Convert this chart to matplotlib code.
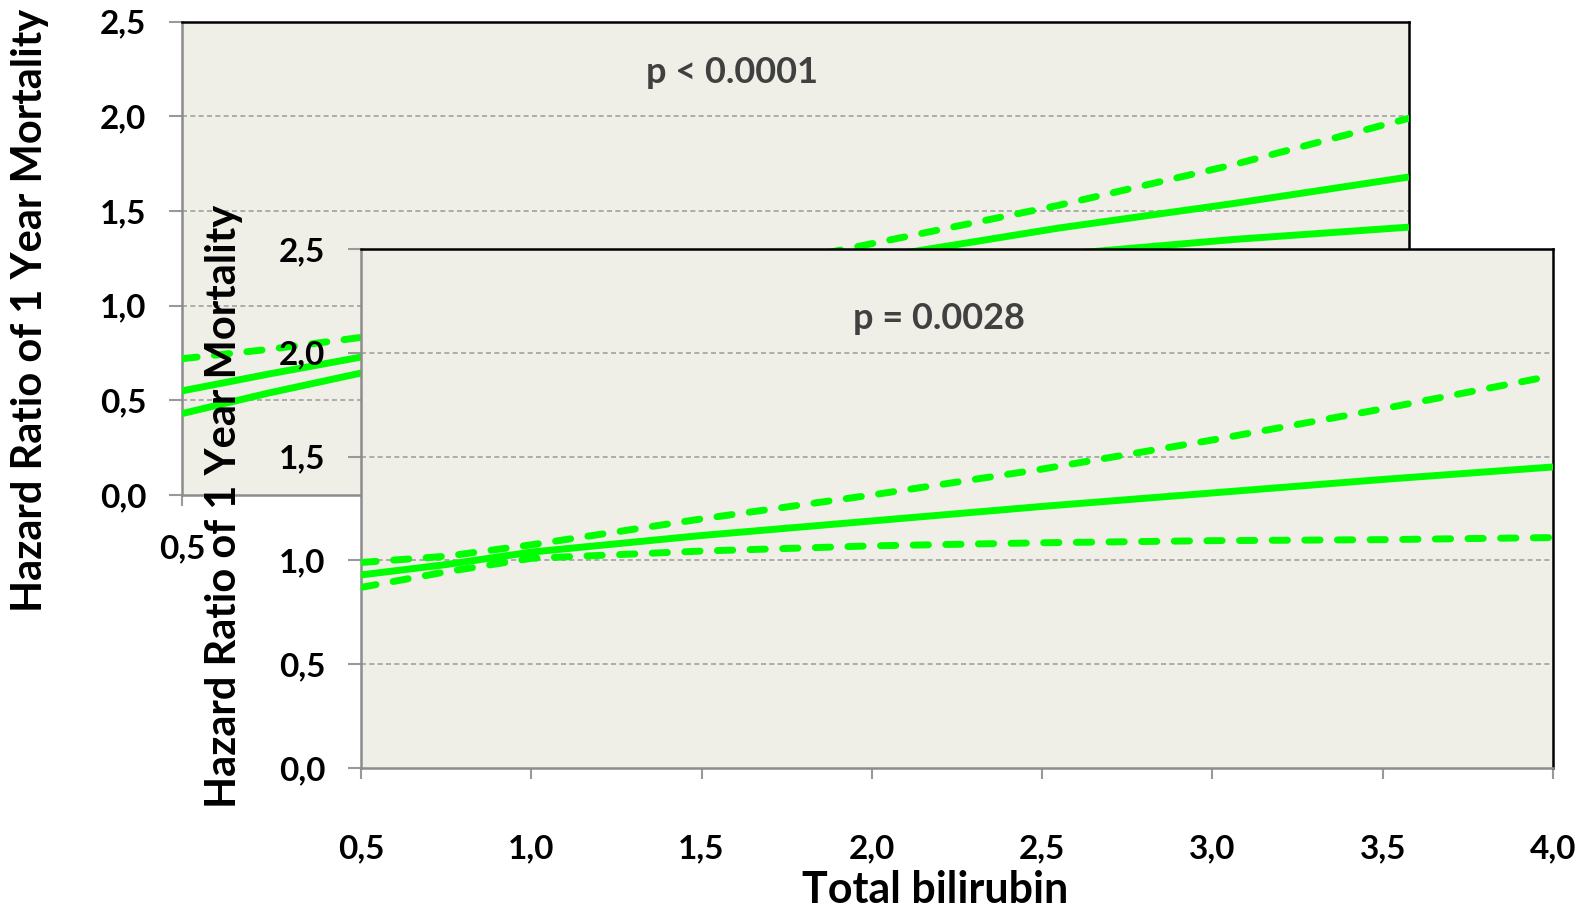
import matplotlib.pyplot as plt
import numpy as np

# total bilirubin grid
bili = [0.5, 0.75, 1.0, 1.5, 2.0, 2.5, 3.0, 3.5, 4.0]

# back panel (p < 0.0001)
back_upper = [0.72, 0.77, 0.83, 0.98, 1.15, 1.34, 1.53, 1.745, 1.99]
back_mid = [0.55, 0.64, 0.725, 0.90, 1.08, 1.26, 1.41, 1.54, 1.68]
back_lower = [0.43, 0.54, 0.64, 0.83, 1.01, 1.16, 1.27, 1.35, 1.415]

# front panel (p = 0.0028)
front_upper = [0.99, 1.02, 1.075, 1.20, 1.315, 1.44, 1.58, 1.73, 1.89]
front_mid = [0.93, 0.98, 1.04, 1.12, 1.19, 1.26, 1.325, 1.39, 1.45]
front_lower = [0.87, 0.945, 1.01, 1.045, 1.07, 1.085, 1.095, 1.10, 1.11]

xticks = [0.5, 1.0, 1.5, 2.0, 2.5, 3.0, 3.5, 4.0]
yticks = [0.0, 0.5, 1.0, 1.5, 2.0, 2.5]
ylabel = "Hazard Ratio of 1 Year Mortality"
xlabel = "Total bilirubin"

plt.rcParams['font.family'] = ['Lato', 'DejaVu Sans']
plt.rcParams['font.weight'] = 'bold'

green = '#00FF00'
bg = '#EFEFE7'


def comma(v):
    return "{0:.1f}".format(v).replace(".", ",")


def style_axes(ax, xt, xpad):
    ax.set_facecolor(bg)
    ax.set_xlim(0.5, 4.0)
    ax.set_ylim(0, 2.5)
    ax.set_xticks(xt)
    ax.set_xticklabels([comma(v) for v in xt])
    ax.set_yticks(yticks)
    ax.set_yticklabels([comma(v) for v in yticks])
    ax.tick_params(axis='x', direction='out', length=8, width=1.5, color='#999999',
                   pad=xpad, labelsize=24)
    ax.tick_params(axis='y', direction='out', length=9.5, width=1.5, color='#999999',
                   pad=16, labelsize=24)
    for lab in ax.get_xticklabels() + ax.get_yticklabels():
        lab.set_fontweight('bold')
    for s in ['left', 'bottom']:
        ax.spines[s].set_color('#8c8c8c')
        ax.spines[s].set_linewidth(1.8)
    for s in ['top', 'right']:
        ax.spines[s].set_color('black')
        ax.spines[s].set_linewidth(1.8)
    for g in [0.5, 1.0, 1.5, 2.0]:
        ax.axhline(g, color='#a0a0a0', lw=1.2, ls=(0, (3, 2)), zorder=1)


def draw_lines(ax, upper, mid, lower, lower_dashed):
    dash = dict(color=green, lw=5, dashes=(2.2, 2.5), dash_capstyle='round', zorder=3)
    ax.plot(bili, upper, **dash)
    ax.plot(bili, mid, color=green, lw=5, solid_capstyle='butt', zorder=3)
    if lower_dashed:
        ax.plot(bili, lower, **dash)
    else:
        ax.plot(bili, lower, color=green, lw=5, solid_capstyle='butt', zorder=3)


fig = plt.figure(figsize=(15.82, 9.09), dpi=100)

ax_back = fig.add_axes([0.1150, 0.4554, 0.7756, 0.5207], zorder=1)
style_axes(ax_back, xticks[:1], 20)
draw_lines(ax_back, back_upper, back_mid, back_lower, False)
ax_back.text(2.07, 2.23, "p < 0.0001", ha='center', va='center', fontsize=26,
             fontweight='bold', color='#404040')
ax_back.text(-0.124, 0.39, ylabel, transform=ax_back.transAxes, rotation=90,
             ha='center', va='center', fontsize=30, fontweight='bold', clip_on=False)

ax_front = fig.add_axes([0.2282, 0.1551, 0.7535, 0.5710], zorder=2)
style_axes(ax_front, xticks, 40)
draw_lines(ax_front, front_upper, front_mid, front_lower, True)
ax_front.text(2.197, 2.163, "p = 0.0028", ha='center', va='center', fontsize=26,
              fontweight='bold', color='#404040')
ax_front.text(-0.115, 0.505, ylabel, transform=ax_front.transAxes, rotation=90,
              ha='center', va='center', fontsize=30, fontweight='bold', clip_on=False)
ax_front.text(0.482, -0.235, xlabel, transform=ax_front.transAxes, ha='center',
              va='center', fontsize=31, fontweight='bold', clip_on=False)

fig.savefig("out.png", dpi=100)
